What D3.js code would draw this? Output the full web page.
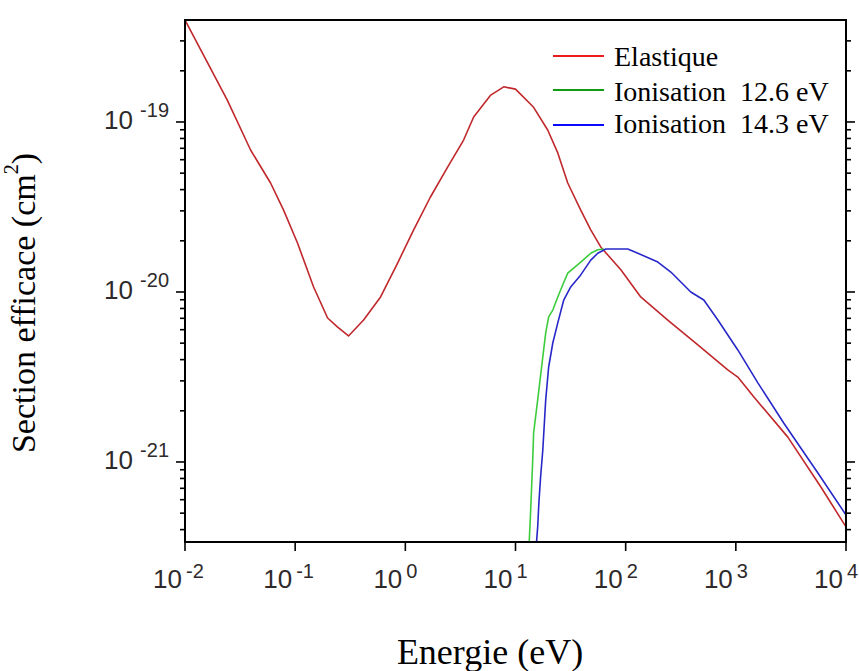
<!DOCTYPE html>
<html><head><meta charset="utf-8">
<script src="https://cdn.jsdelivr.net/npm/d3@7"></script>
<style>body{margin:0;background:#fff}svg{display:block}text{white-space:pre}</style>
</head><body>
<script>
// ---- data ----
const elasticE = [0.01,0.0242,0.0394,0.0598,0.0785,0.105,0.147,0.197,0.243,0.305,0.418,0.596,0.851,1.19,1.69,2.42,3.38,4.17,5.96,7.82,10.0,14.6,19.6,24.2,29.8,39.1,48.2,59.4,90.4,137,241,452,845,1042,1459,2965,5916,10000];
const elasticS = [3.98e-19,1.346e-19,6.84e-20,4.375e-20,3.03e-20,1.94e-20,1.07e-20,7.03e-21,6.22e-21,5.51e-21,6.84e-21,9.35e-21,1.48e-20,2.32e-20,3.62e-20,5.43e-20,7.83e-20,1.07e-19,1.44e-19,1.61e-19,1.56e-19,1.22e-19,8.97e-20,6.58e-20,4.375e-20,3.03e-20,2.32e-20,1.84e-20,1.35e-20,9.35e-21,6.84e-21,4.88e-21,3.48e-21,3.16e-21,2.41e-21,1.40e-21,7.13e-22,4.15e-22];
const ion126E = [13.2,13.7,14.3,14.6,15.9,17.7,18.8,20.0,21.8,24.2,26.8,29.8,39.1,48.2,55.8,63.3];
const ion126S = [3.0e-22,5.01e-22,9.86e-22,1.48e-21,2.32e-21,4.15e-21,5.74e-21,7.13e-21,7.83e-21,9.35e-21,1.10e-20,1.29e-20,1.50e-20,1.69e-20,1.77e-20,1.79e-20];
const ion143E = [15.3,15.9,16.3,16.9,17.7,18.8,20.0,21.8,24.2,27.4,31.7,39.1,48.2,55.8,66.1,104.5,129,196,257,390,512,687,1042,1585,2729,5558,10000];
const ion143S = [3.0e-22,4.15e-22,5.74e-22,8.17e-22,1.18e-21,2.32e-21,3.62e-21,5.01e-21,6.58e-21,8.97e-21,1.07e-20,1.26e-20,1.54e-20,1.69e-20,1.79e-20,1.79e-20,1.69e-20,1.50e-20,1.31e-20,1.0e-20,8.97e-21,6.84e-21,4.56e-21,2.92e-21,1.69e-21,8.61e-22,4.88e-22];
const xTickExps = [-2,-1,0,1,2,3,4];
const yTickExps = [-19,-20,-21];
const seriesNames = ["Elastique","Ionisation  12.6 eV","Ionisation  14.3 eV"];
const xDomain = [1e-2, 1e4];
const yDomain = [3.383e-22, 3.98e-19];

// ---- layout ----
const W = 859, H = 671;
const L = 185, R = 846, T = 20, B = 542;
const svg = d3.select("body").append("svg").attr("width", W).attr("height", H);
const x = d3.scaleLog().domain(xDomain).range([L, R]);
const y = d3.scaleLog().domain(yDomain).range([B, T]);

svg.append("clipPath").attr("id","clip").append("rect")
  .attr("x", L).attr("y", T).attr("width", R - L).attr("height", B - T);

const lineColors = ["#c0282c", "#3dcc3d", "#2828c8"];
const legendColors = ["#ee1c1c", "#139c13", "#0a0aff"];
const series = [[elasticE, elasticS],[ion126E, ion126S],[ion143E, ion143S]];
const line = d3.line().x(d => x(d[0])).y(d => y(d[1]));
const g = svg.append("g").attr("clip-path","url(#clip)");
series.forEach((s, i) => {
  const pts = s[0].map((e, k) => [e, s[1][k]]);
  g.append("path").datum(pts).attr("d", line)
    .attr("fill","none").attr("stroke", lineColors[i]).attr("stroke-width", 1.6)
    .attr("stroke-linejoin","round");
});

// y ticks (left and right), minor at 2..9 of each decade
const yMinor = [];
for (let e = -22; e <= -19; e++) for (let m = 1; m <= 9; m++) {
  const v = m * Math.pow(10, e);
  if (v >= yDomain[0] && v <= yDomain[1]) yMinor.push(v);
}
const tg = svg.append("g").attr("stroke","#000").attr("stroke-width",1.6);
yMinor.forEach(v => {
  const major = Math.abs(Math.log10(v) - Math.round(Math.log10(v))) < 1e-9;
  const len = major ? 9 : 5;
  tg.append("line").attr("x1", L - len).attr("x2", L).attr("y1", y(v)).attr("y2", y(v));
  tg.append("line").attr("x1", R).attr("x2", R + len).attr("y1", y(v)).attr("y2", y(v));
});
xTickExps.forEach(e => {
  const xv = x(Math.pow(10, e));
  tg.append("line").attr("x1", xv).attr("x2", xv).attr("y1", B).attr("y2", B + 9);
});
// frame
svg.append("rect").attr("x", L).attr("y", T).attr("width", R - L).attr("height", B - T)
  .attr("fill","none").attr("stroke","#000").attr("stroke-width",2);

const tickColor = "#2e2a2c";
const tf = "'Liberation Sans', Arial, sans-serif";
// x tick labels
xTickExps.forEach(e => {
  const xv = x(Math.pow(10, e));
  svg.append("text").attr("x", xv - 3).attr("y", B + 46).attr("text-anchor","end")
    .attr("font-family", tf).attr("font-size", 26).attr("fill", tickColor).text("10");
  svg.append("text").attr("x", xv + 1).attr("y", B + 36).attr("text-anchor","start")
    .attr("font-family", tf).attr("font-size", 20).attr("fill", tickColor).text(String(e));
});
// y tick labels
yTickExps.forEach(e => {
  const yv = y(Math.pow(10, e));
  svg.append("text").attr("x", 169).attr("y", yv - 5).attr("text-anchor","end")
    .attr("font-family", tf).attr("font-size", 20).attr("fill", tickColor).text(String(e));
  svg.append("text").attr("x", 133).attr("y", yv + 7).attr("text-anchor","end")
    .attr("font-family", tf).attr("font-size", 26).attr("fill", tickColor).text("10");
});

// axis titles
const sf = "'Liberation Serif', 'Times New Roman', serif";
svg.append("text").attr("x", 490).attr("y", 664).attr("text-anchor","middle")
  .attr("font-family", sf).attr("font-size", 36).attr("fill","#000").text("Energie (eV)");
const yt = svg.append("text").attr("transform","translate(35,303) rotate(-90)")
  .attr("text-anchor","middle").attr("font-family", sf).attr("font-size", 34).attr("fill","#000");
yt.append("tspan").text("Section efficace (cm");
yt.append("tspan").attr("font-size", 20).attr("dy", -17).text("2");
yt.append("tspan").attr("dy", 17).text(")");

// legend
const legY = [56, 90, 125];
const legBase = [66, 101, 133];
seriesNames.forEach((n, i) => {
  svg.append("line").attr("x1", 553).attr("x2", 604).attr("y1", legY[i]).attr("y2", legY[i])
    .attr("stroke", legendColors[i]).attr("stroke-width", 2);
  svg.append("text").attr("x", 614).attr("y", legBase[i]).attr("font-family", sf)
    .attr("font-size", 28).attr("fill","#000").text(n);
});
</script>
</body></html>
